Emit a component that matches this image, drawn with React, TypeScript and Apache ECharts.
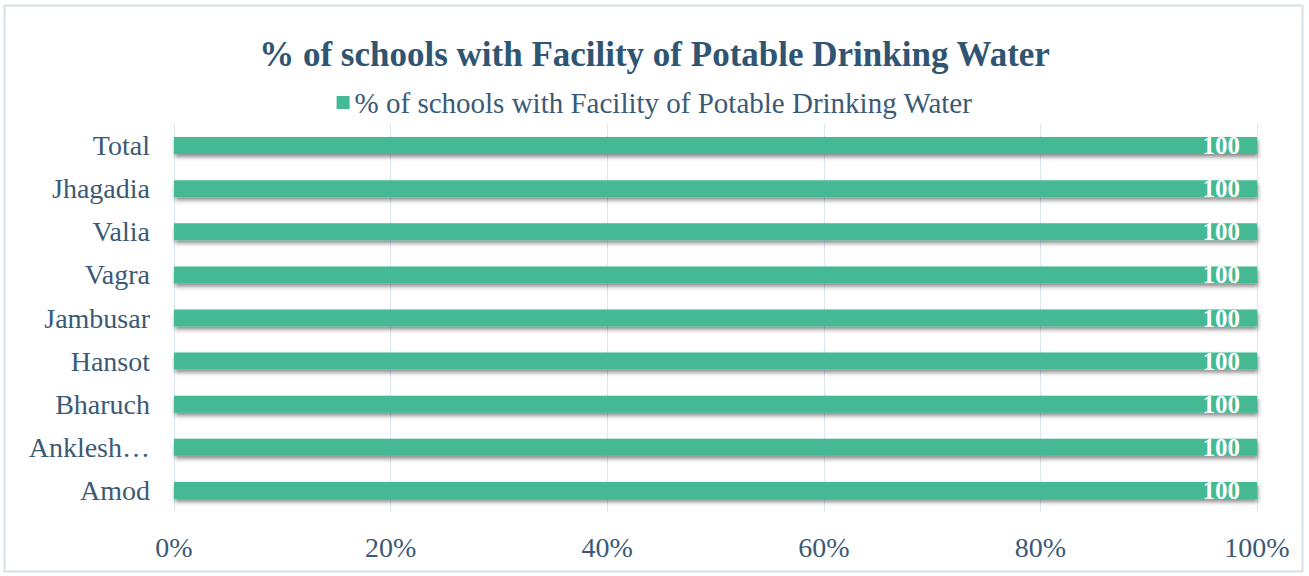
import React, { useEffect, useRef } from "react";
import * as echarts from "echarts";

const categories = ["Amod", "Anklesh…", "Bharuch", "Hansot", "Jambusar", "Vagra", "Valia", "Jhagadia", "Total"];
const values = [100, 100, 100, 100, 100, 100, 100, 100, 100];
const seriesName = "% of schools with Facility of Potable Drinking Water";
const titleText = "% of schools with Facility of Potable Drinking Water";
const xTicks = [0, 20, 40, 60, 80, 100];

const FONT = "'Liberation Serif', 'Times New Roman', serif";
const TEXT_COLOR = "#3b5a76";

export default function App() {
  const ref = useRef<HTMLDivElement>(null);
  useEffect(() => {
    if (!ref.current) return;
    const chart = echarts.init(ref.current, null, { renderer: "svg" });
    chart.setOption({
      animation: false,
      backgroundColor: "#ffffff",
      title: {
        text: titleText,
        left: "center",
        top: 32,
        textStyle: { fontFamily: FONT, fontSize: 35, fontWeight: "bold", color: "#2f5572" },
      },
      legend: {
        top: 83,
        left: "center",
        icon: "rect",
        itemWidth: 13,
        itemHeight: 13,
        textStyle: { fontFamily: FONT, fontSize: 29, color: TEXT_COLOR },
        data: [seriesName],
      },
      grid: { left: 174, right: 52, top: 124, bottom: 64, containLabel: false },
      xAxis: {
        type: "value",
        min: 0,
        max: 100,
        interval: 20,
        axisLine: { show: false },
        axisTick: { show: false },
        splitLine: { show: true, lineStyle: { color: "#dde5ee", width: 1 } },
        axisLabel: {
          margin: 21,
          fontFamily: FONT,
          fontSize: 28,
          color: TEXT_COLOR,
          formatter: (v: number) => (xTicks.includes(v) ? v + "%" : ""),
        },
      },
      yAxis: {
        type: "category",
        data: categories,
        axisLine: { show: false },
        axisTick: { show: false },
        axisLabel: { margin: 24, fontFamily: FONT, fontSize: 28, color: TEXT_COLOR },
      },
      series: [
        {
          name: seriesName,
          type: "bar",
          data: values,
          barWidth: 17,
          itemStyle: {
            color: "#44b994",
            shadowColor: "rgba(0,0,0,0.45)",
            shadowBlur: 4,
            shadowOffsetY: 3,
            shadowOffsetX: 1,
          },
          label: {
            show: true,
            position: "insideRight",
            distance: 17,
            color: "#ffffff",
            fontFamily: FONT,
            fontSize: 25,
            fontWeight: "bold",
          },
        },
      ],
      graphic: [
        {
          type: "rect",
          shape: { x: 4.5, y: 5.5, width: 1298, height: 566 },
          style: { fill: "none", stroke: "#d6e0ea", lineWidth: 2 },
          silent: true,
        },
      ],
    });
    return () => chart.dispose();
  }, []);
  return (
    <div
      ref={ref}
      style={{ position: "fixed", left: 0, top: 0, width: 1309, height: 576 }}
    />
  );
}
